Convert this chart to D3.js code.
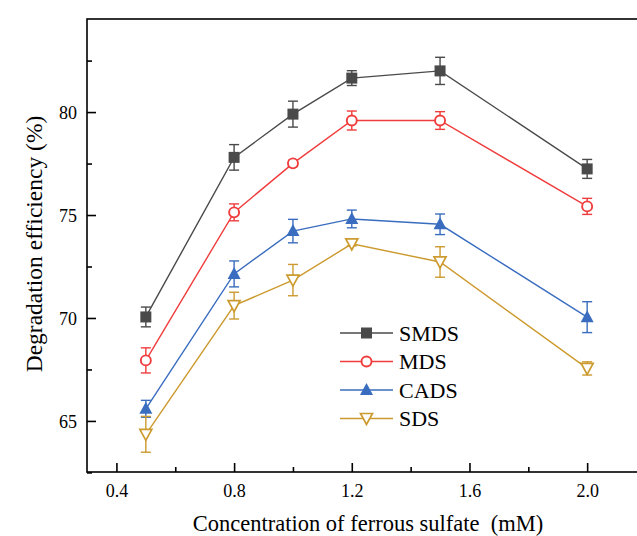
<!DOCTYPE html>
<html>
<head>
<meta charset="utf-8">
<script src="https://cdn.jsdelivr.net/npm/d3@7"></script>
<style>
  body { margin: 0; background: #fff; }
  text { font-family: "Liberation Serif", "Times New Roman", serif; fill: #000; }
</style>
</head>
<body>
<svg id="chart" width="637" height="536"></svg>
<script>
// ------- data -------
var conc = [0.5, 0.8, 1.0, 1.2, 1.5, 2.0];

var smds    = [70.05, 77.8, 79.9, 81.65, 82.0, 77.24];
var smdsErr = [0.48, 0.62, 0.63, 0.36, 0.66, 0.46];
var mds     = [67.94, 75.13, 77.51, 79.59, 79.59, 75.42];
var mdsErr  = [0.61, 0.41, 0.15, 0.46, 0.43, 0.39];
var cads    = [65.59, 72.14, 74.22, 74.81, 74.55, 70.04];
var cadsErr = [0.41, 0.63, 0.57, 0.43, 0.5, 0.75];
var sds     = [64.35, 70.6, 71.84, 73.6, 72.72, 67.55];
var sdsErr  = [0.87, 0.65, 0.76, 0.1, 0.74, 0.32];

var names  = ["SMDS", "MDS", "CADS", "SDS"];
var colors = ["#4a4a4a", "#f03c3c", "#3a6dbf", "#cc9a2e"];
var shapes = ["square", "circle", "triangle", "downtri"];

var xTicks = [0.4, 0.8, 1.2, 1.6, 2.0];
var yTicks = [65, 70, 75, 80];

var series = [
  {name: names[0], vals: smds, errs: smdsErr},
  {name: names[1], vals: mds, errs: mdsErr},
  {name: names[2], vals: cads, errs: cadsErr},
  {name: names[3], vals: sds, errs: sdsErr}
];

var svg = d3.select("#chart");
var pLeft = 87, pRight = 646, pTop = 19, pBottom = 472;

var x = d3.scaleLinear().domain([0.3, 2.2]).range([pLeft, pRight]);
var y = d3.scaleLinear().domain([62.52, 84.52]).range([pBottom, pTop]);

// ---------- frame + ticks ----------
svg.append("rect")
  .attr("x", pLeft).attr("y", pTop)
  .attr("width", pRight - pLeft).attr("height", pBottom - pTop)
  .attr("fill", "none").attr("stroke", "#000").attr("stroke-width", 1.6);

var xAxis = svg.append("g").attr("transform", "translate(0," + pBottom + ")")
  .call(d3.axisBottom(x).tickValues(xTicks).tickSizeInner(-9).tickSizeOuter(0)
    .tickFormat(d3.format(".1f")));
var xMinor = svg.append("g").attr("transform", "translate(0," + pBottom + ")")
  .call(d3.axisBottom(x).tickValues([0.6, 1.0, 1.4, 1.8]).tickSizeInner(-5).tickSizeOuter(0)
    .tickFormat(""));
var yAxis = svg.append("g").attr("transform", "translate(" + pLeft + ",0)")
  .call(d3.axisLeft(y).tickValues(yTicks).tickSizeInner(-9).tickSizeOuter(0));
var yMinor = svg.append("g").attr("transform", "translate(" + pLeft + ",0)")
  .call(d3.axisLeft(y).tickValues([62.5, 67.5, 72.5, 77.5, 82.5]).tickSizeInner(-5).tickSizeOuter(0)
    .tickFormat(""));

[xAxis, xMinor, yAxis, yMinor].forEach(function(g) {
  g.attr("font-family", "Liberation Serif");
  g.select(".domain").remove();
  g.selectAll("line").attr("stroke", "#000").attr("stroke-width", 1.6);
});
xAxis.selectAll("text").attr("font-size", 18).attr("dy", 0).attr("y", 25);
yAxis.selectAll("text").attr("font-size", 18).attr("x", -10).attr("dy", "0.35em");

// axis titles
svg.append("text")
  .attr("x", 368).attr("y", 531)
  .attr("text-anchor", "middle").attr("font-size", 22.5)
  .style("white-space", "pre")
  .text("Concentration of ferrous sulfate  (mM)");
svg.append("text")
  .attr("transform", "translate(42,244) rotate(-90)")
  .attr("text-anchor", "middle").attr("font-size", 23.5)
  .text("Degradation efficiency (%)");

// ---------- markers ----------
function drawMarker(g, shape, color, cx, cy) {
  if (shape == "square") {
    g.append("rect").attr("x", cx - 5.5).attr("y", cy - 5.5)
      .attr("width", 11).attr("height", 11).attr("fill", color);
  } else if (shape == "circle") {
    g.append("circle").attr("cx", cx).attr("cy", cy).attr("r", 5)
      .attr("fill", "#fff").attr("stroke", color).attr("stroke-width", 1.9);
  } else if (shape == "triangle") {
    g.append("path").attr("d", "M" + cx + "," + (cy - 7) + "L" + (cx + 6.5) + "," + (cy + 5) +
      "L" + (cx - 6.5) + "," + (cy + 5) + "Z").attr("fill", color);
  } else {
    g.append("path").attr("d", "M" + (cx - 6) + "," + (cy - 5) + "L" + (cx + 6) + "," + (cy - 5) +
      "L" + cx + "," + (cy + 6) + "Z")
      .attr("fill", "#fff").attr("stroke", color).attr("stroke-width", 1.7);
  }
}

var line = d3.line().x(function(d) { return x(d[0]); }).y(function(d) { return y(d[1]); });

series.forEach(function(s, i) {
  var g = svg.append("g");
  var pts = conc.map(function(c, j) { return [c, s.vals[j], s.errs[j]]; });
  g.append("path").datum(pts).attr("d", line)
    .attr("fill", "none").attr("stroke", colors[i]).attr("stroke-width", 1.4);
  pts.forEach(function(p) {
    var cx = x(p[0]), y1 = y(p[1] - p[2]), y2 = y(p[1] + p[2]);
    g.append("line").attr("x1", cx).attr("x2", cx).attr("y1", y1).attr("y2", y2)
      .attr("stroke", colors[i]).attr("stroke-width", 1.4);
    [y1, y2].forEach(function(yy) {
      g.append("line").attr("x1", cx - 5).attr("x2", cx + 5).attr("y1", yy).attr("y2", yy)
        .attr("stroke", colors[i]).attr("stroke-width", 1.4);
    });
    drawMarker(g, shapes[i], colors[i], cx, y(p[1]));
  });
});

// ---------- legend ----------
var legend = svg.append("g").selectAll("g")
  .data(names).enter().append("g")
  .attr("transform", function(d, i) { return "translate(0," + (333 + i * 28.5) + ")"; });
legend.append("line")
  .attr("x1", 340).attr("x2", 393).attr("y1", 0).attr("y2", 0)
  .attr("stroke", function(d, i) { return colors[i]; }).attr("stroke-width", 1.4);
legend.each(function(d, i) {
  drawMarker(d3.select(this), shapes[i], colors[i], 366.5, 0);
});
legend.append("text")
  .attr("x", 399).attr("y", 0).attr("dy", "0.35em")
  .attr("font-size", 22)
  .text(function(d) { return d; });
</script>
</body>
</html>
